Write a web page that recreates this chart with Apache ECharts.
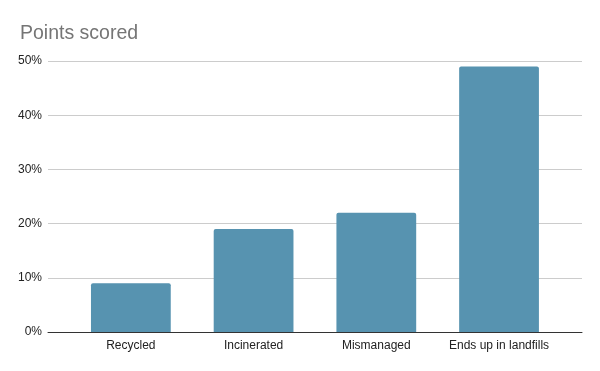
<!DOCTYPE html>
<html>
<head>
<meta charset="utf-8">
<script src="https://cdn.jsdelivr.net/npm/echarts@6/dist/echarts.min.js"></script>
<style>html,body{margin:0;padding:0;background:#fff}#c{width:600px;height:371px}</style>
</head>
<body>
<div id="c"></div>
<script>
var categories = ['Recycled', 'Incinerated', 'Mismanaged', 'Ends up in landfills'];
var pointsScored = [9, 19, 22, 49];
var yTicks = [0, 10, 20, 30, 40, 50];

var chart = echarts.init(document.getElementById('c'), null, {renderer: 'canvas'});
var font = 'Arial, "Liberation Sans", sans-serif';
chart.setOption({
  animation: false,
  backgroundColor: '#ffffff',
  title: {
    text: 'Points scored',
    left: 15, top: 19,
    textStyle: {color: '#757575', fontSize: 19.5, fontWeight: 'normal', fontFamily: font}
  },
  grid: [
    {left: 48, right: 18, top: 61, bottom: 39},
    {left: 69.5, right: 39.6, top: 61, bottom: 39}
  ],
  xAxis: [
    {type: 'category', gridIndex: 0, data: categories, show: true,
     axisLine: {show: true, lineStyle: {color: '#333333', width: 1}},
     axisTick: {show: false}, axisLabel: {show: false}, splitLine: {show: false}, z: 5},
    {type: 'category', gridIndex: 1, data: categories,
     axisLine: {show: false}, axisTick: {show: false},
     axisLabel: {interval: 0, color: '#222222', fontSize: 12, fontFamily: font, margin: 8}}
  ],
  yAxis: [
    {type: 'value', gridIndex: 0, min: yTicks[0], max: yTicks[yTicks.length - 1], interval: 10,
     axisLine: {show: false}, axisTick: {show: false},
     axisLabel: {formatter: '{value}%', color: '#222222', fontSize: 12, fontFamily: font, margin: 6},
     splitLine: {lineStyle: {color: '#cccccc', width: 1}}},
    {type: 'value', gridIndex: 1, min: yTicks[0], max: yTicks[yTicks.length - 1], interval: 10,
     show: false, splitLine: {show: false}}
  ],
  series: [{
    type: 'bar',
    xAxisIndex: 1, yAxisIndex: 1,
    data: pointsScored,
    barWidth: '65%',
    itemStyle: {color: '#5793b0', borderRadius: [2, 2, 0, 0]},
    z: 3
  }]
});
</script>
</body>
</html>
